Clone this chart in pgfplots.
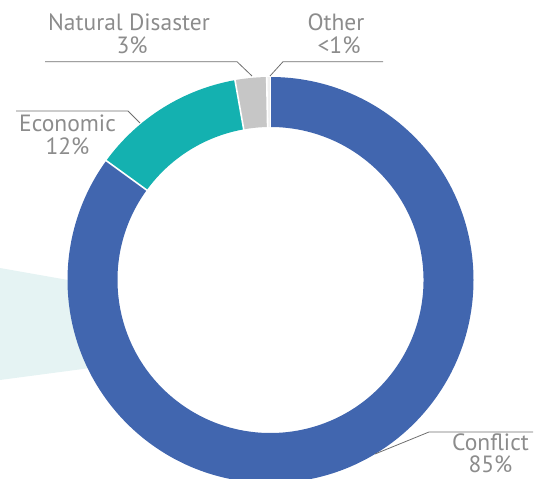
\documentclass[border=0pt]{standalone}
\usepackage{pgfplots}
\pgfplotsset{compat=1.18}
\usepackage{pgfplotstable}
\usepackage{fontspec}
\setmainfont{PT Sans}
\definecolor{cblue}{RGB}{65,102,175}
\definecolor{cteal}{RGB}{20,177,176}
\definecolor{cgrey}{RGB}{198,198,198}
\definecolor{cother}{RGB}{240,240,240}
\definecolor{cbg}{RGB}{229,243,243}
\definecolor{ctext}{RGB}{140,140,140}
\definecolor{cline}{RGB}{110,110,110}
\pgfplotstableread{
label value
Conflict 85.0
Economic 12.2
Disaster 2.5
Other 0.3
}\piedata
\pgfplotstablegetelem{0}{value}\of\piedata \let\vA\pgfplotsretval
\pgfplotstablegetelem{1}{value}\of\piedata \let\vB\pgfplotsretval
\pgfplotstablegetelem{2}{value}\of\piedata \let\vC\pgfplotsretval
\pgfplotstablegetelem{3}{value}\of\piedata \let\vD\pgfplotsretval
\pgfmathsetmacro\aA{90}
\pgfmathsetmacro\aB{\aA-3.6*\vA}
\pgfmathsetmacro\aC{\aB-3.6*\vB}
\pgfmathsetmacro\aD{\aC-3.6*\vC}
\pgfmathsetmacro\aE{\aD-3.6*\vD}
\def\cx{270.5}\def\cy{199}
\newcommand\sector[3]{%
  \fill[#3] (axis cs:\cx,\cy) ++(#1:203pt) arc[start angle=#1,end angle=#2,radius=203pt]
     -- ++(#2:-50pt) arc[start angle=#2,end angle=#1,radius=153pt] -- cycle;}
\newcommand\sep[1]{%
  \draw[white, line width=1.6pt] (axis cs:\cx,\cy) ++(#1:150pt) -- ++(#1:56pt);}
\begin{document}
\begin{tikzpicture}
\begin{axis}[
  width=541pt, height=479pt, scale only axis,
  xmin=0, xmax=541, ymin=0, ymax=479,
  hide axis, clip mode=global,
]
\coordinate (ll) at (axis cs:0,0);
\coordinate (ur) at (axis cs:541,479);
\addplot[fill=cbg, draw=none] coordinates {(0,211) (110,191.6) (110,113.6) (0,99)} -- cycle;
\sector{\aA}{\aB}{cblue}
\sector{\aB}{\aC}{cteal}
\sector{\aC}{\aD}{cgrey}
\sector{\aD}{\aE}{cother}
\sep{\aB}
\sep{\aC}
\sep{\aD}
\sep{\aE}
\draw[cline, line width=0.8pt] (axis cs:45,417.3) -- (axis cs:237,417.3) -- (axis cs:252,403);
\draw[cline, line width=0.8pt] (axis cs:270,403) -- (axis cs:283,417.3) -- (axis cs:383,417.3);
\draw[cline, line width=0.8pt] (axis cs:16,368) -- (axis cs:128,368) -- (axis cs:140,356);
\draw[cline, line width=0.8pt] (axis cs:375,25) -- (axis cs:429,47) -- (axis cs:533,47);
\begin{scope}[every node/.style={text=ctext, anchor=base, inner sep=0pt, font=\fontsize{23.5}{28}\selectfont}]
\node at (axis cs:129,448) {Natural Disaster};
\node at (axis cs:132,425) {3\%};
\node at (axis cs:336,448) {Other};
\node at (axis cs:339,425) {<1\%};
\node at (axis cs:67.5,347) {Economic};
\node at (axis cs:67.5,324) {12\%};
\node at (axis cs:490.5,28.5) {Conflict};
\node at (axis cs:490.5,6) {85\%};
\end{scope}
\end{axis}
\pgfresetboundingbox
\useasboundingbox (ll) rectangle (ur);
\end{tikzpicture}
\end{document}
